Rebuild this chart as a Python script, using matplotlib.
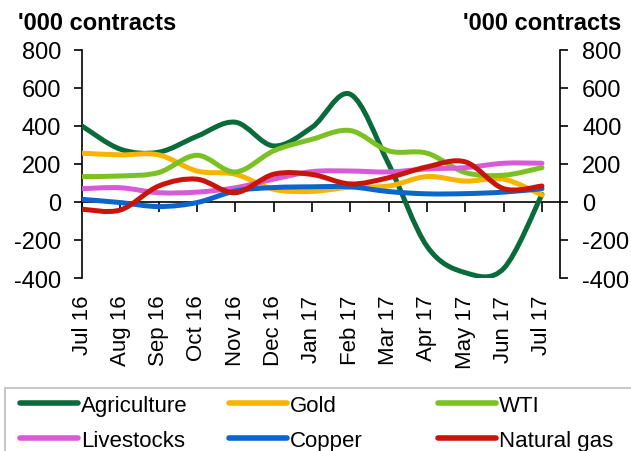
import numpy as np
import matplotlib
matplotlib.use("Agg")
import matplotlib.pyplot as plt
from matplotlib.path import Path
from matplotlib.patches import PathPatch, Rectangle
from matplotlib.lines import Line2D

plt.rcParams['font.family'] = ['Liberation Sans', 'DejaVu Sans']
plt.rcParams['axes.unicode_minus'] = False

months = ["Jul 16", "Aug 16", "Sep 16", "Oct 16", "Nov 16", "Dec 16", "Jan 17",
          "Feb 17", "Mar 17", "Apr 17", "May 17", "Jun 17", "Jul 17"]

agriculture = [400, 278, 262, 346, 420, 295, 393, 567, 200, -233, -372, -350, 40]
gold = [257, 248, 248, 163, 146, 67, 56, 78, 84, 134, 110, 120, 37]
wti = [134, 137, 155, 246, 158, 269, 330, 376, 269, 257, 155, 141, 181]
livestocks = [70, 75, 49, 52, 75, 120, 160, 163, 158, 174, 181, 204, 204]
copper = [14, -3, -24, -3, 58, 76, 80, 80, 55, 43, 44, 52, 70]
natural_gas = [-38, -42, 84, 120, 49, 146, 145, 95, 128, 185, 211, 70, 84]

series = [
    ("Agriculture", agriculture, "#0a6b3a"),
    ("Gold", gold, "#f9b400"),
    ("WTI", wti, "#7bc124"),
    ("Livestocks", livestocks, "#d75bd7"),
    ("Copper", copper, "#0a66cc"),
    ("Natural gas", natural_gas, "#c8140a"),
]


def smooth_path(xs, ys):
    # Excel-style smoothed line: Catmull-Rom segments as cubic Beziers
    pts = np.column_stack([xs, ys]).astype(float)
    n = len(pts)
    verts = [pts[0]]
    codes = [Path.MOVETO]
    for i in range(n - 1):
        p0 = pts[max(i - 1, 0)]
        p1 = pts[i]
        p2 = pts[i + 1]
        p3 = pts[min(i + 2, n - 1)]
        verts += [p1 + (p2 - p0) / 6, p2 - (p3 - p1) / 6, p2]
        codes += [Path.CURVE4] * 3
    return Path(verts, codes)


W, H = 631, 452
fig = plt.figure(figsize=(W / 100, H / 100), dpi=100)
ax = fig.add_axes([82 / W, 1 - 279 / H, (560 - 82) / W, (279 - 51) / H])

x = np.arange(len(months))
for name, vals, col in series:
    ax.add_patch(PathPatch(smooth_path(x, vals), facecolor="none", edgecolor=col,
                           lw=3.6, capstyle="round", joinstyle="round", zorder=3))

ax.set_xlim(0, 12.47)
ax.set_ylim(-400, 800)
yt = [-400, -200, 0, 200, 400, 600, 800]
ax.set_yticks(yt)
ax.tick_params(axis="y", direction="out", length=6, width=1.2, labelsize=17, pad=9)
for s in ["top", "bottom"]:
    ax.spines[s].set_visible(False)
ax.spines["left"].set_linewidth(1.2)
ax.spines["right"].set_visible(False)

ax.set_xticks(x)
ax.set_xticklabels(months, rotation=90, fontsize=16)
ax.tick_params(axis="x", length=0, pad=12)

# horizontal axis line at zero with tick marks
ax.axhline(0, color="black", lw=1.2, zorder=2)
sec = ax.secondary_xaxis(1 / 3)
sec.set_xticks(x)
sec.set_xticklabels([])
sec.tick_params(direction="out", length=7, width=1.2)
sec.spines["bottom"].set_visible(False)
sec.spines["top"].set_visible(False)

ax2 = ax.twinx()
ax2.set_ylim(-400, 800)
ax2.set_yticks(yt)
ax2.tick_params(axis="y", direction="out", length=6, width=1.2, labelsize=17, pad=10)
for s in ["top", "bottom", "left"]:
    ax2.spines[s].set_visible(False)
ax2.spines["right"].set_linewidth(1.2)

fig.text(18 / W, 1 - 24 / H, "'000 contracts", fontsize=17, fontweight="bold",
         ha="left", va="center")
fig.text(621 / W, 1 - 24 / H, "'000 contracts", fontsize=17, fontweight="bold",
         ha="right", va="center")

# legend box running off the figure edge
fig.patches.append(Rectangle((5 / W, -0.05), 1.0, 1 - 389 / H + 0.05,
                             transform=fig.transFigure, facecolor="white",
                             edgecolor="#c8c8c8", lw=1.5))

col_x = [20, 229, 438]
for c in range(3):
    items = [series[c], series[c + 3]]
    handles = [Line2D([], [], color=col, lw=4, solid_capstyle="round") for _, _, col in items]
    fig.legend(handles, [n for n, _, _ in items], loc="upper left",
               bbox_to_anchor=(col_x[c] / W, 1 - 396 / H), frameon=False,
               fontsize=16, handlelength=2.6, handletextpad=0.15,
               labelspacing=0.62, borderpad=0, borderaxespad=0)

fig.savefig("out.png", dpi=100)
